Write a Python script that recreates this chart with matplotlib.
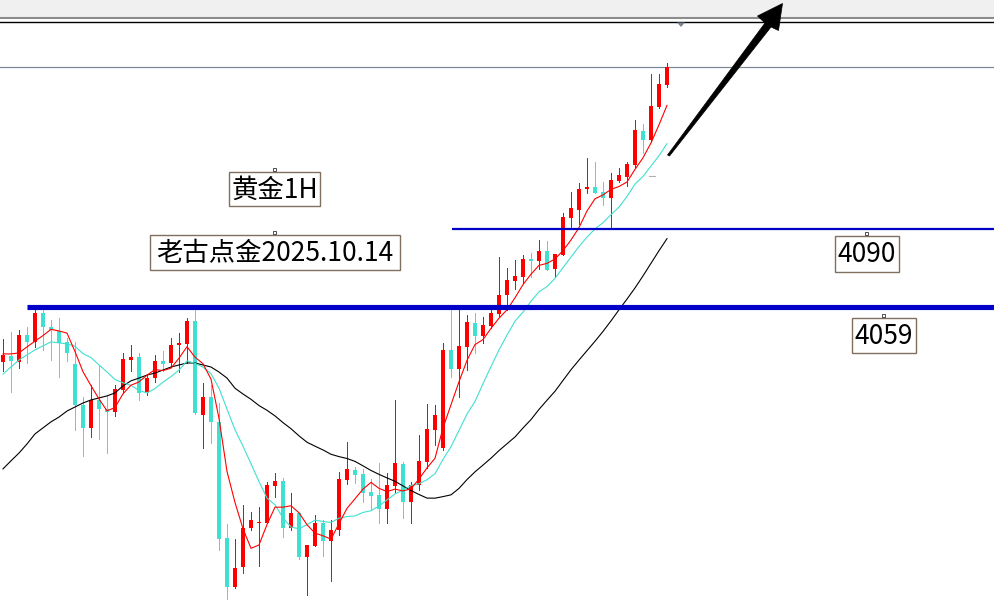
import matplotlib
matplotlib.use("Agg")
import matplotlib.pyplot as plt
from matplotlib.patches import Rectangle, Polygon
import numpy as np
import pandas as pd

plt.rcParams['font.family'] = ['Noto Sans CJK SC', 'DejaVu Sans']

# ---------------- data (gold, 1H candles) ----------------
opens = [4037.1, 4039.5, 4037.1, 4047.8, 4045.1, 4056.6, 4051.0, 4049.4, 4045.1, 4036.3,
         4020.0, 4010.9, 4022.0, 4018.4, 4017.2, 4026.0, 4037.9, 4039.1, 4025.2, 4030.7,
         4037.5, 4036.7, 4043.9, 4044.3, 4053.4, 4016.0, 4023.2, 4013.3, 3967.1, 3947.7,
         3955.6, 3971.1, 3973.1, 3973.1, 3987.8, 3989.8, 3971.1, 3977.1, 3959.6, 3964.0,
         3973.1, 3965.9, 3970.3, 3990.2, 3994.2, 3992.6, 3985.4, 3984.2, 3978.7, 3987.8,
         3996.6, 3981.5, 3988.2, 3997.4, 4010.1, 4002.9, 4041.9, 4034.3, 4043.1, 4052.6,
         4047.4, 4051.4, 4056.2, 4063.7, 4069.3, 4070.9, 4078.0, 4077.3, 4081.2, 4074.1,
         4079.6, 4094.3, 4097.5, 4105.9, 4106.7, 4104.7, 4102.3, 4109.1, 4110.6, 4115.4,
         4128.9, 4125.4, 4138.5, 4147.2]
highs = [4046.2, 4049.0, 4049.8, 4051.0, 4057.8, 4057.8, 4053.8, 4054.6, 4046.6, 4045.1,
         4023.2, 4028.0, 4035.5, 4024.0, 4028.0, 4040.7, 4043.9, 4040.7, 4031.9, 4039.9,
         4041.5, 4046.6, 4048.6, 4054.6, 4057.8, 4028.8, 4028.0, 4020.8, 3972.7, 3966.8,
         3980.3, 3977.5, 3979.5, 3989.4, 3993.0, 3991.0, 3985.0, 3977.1, 3964.4, 3976.3,
         3974.3, 3974.3, 3993.4, 4005.3, 3995.4, 3994.6, 3990.6, 3997.0, 3993.0, 4022.0,
         3997.4, 3989.4, 4008.1, 4020.4, 4020.0, 4044.7, 4059.8, 4059.8, 4055.8, 4056.6,
         4055.0, 4059.0, 4078.8, 4074.5, 4077.7, 4079.6, 4080.4, 4085.6, 4085.2, 4080.0,
         4096.3, 4104.7, 4108.3, 4118.2, 4116.6, 4108.7, 4112.2, 4114.2, 4116.6, 4133.3,
         4131.7, 4151.6, 4151.6, 4156.0]
lows = [4033.5, 4025.2, 4034.7, 4036.7, 4043.1, 4041.9, 4037.9, 4031.1, 4037.5, 4010.1,
        3999.7, 4007.3, 4006.5, 4000.9, 4015.6, 4024.8, 4033.5, 4022.0, 4024.0, 4029.2,
        4033.5, 4035.1, 4033.1, 4036.7, 4016.4, 4002.9, 4004.9, 3962.4, 3942.9, 3947.3,
        3953.2, 3970.3, 3956.0, 3973.1, 3983.4, 3967.5, 3970.3, 3958.8, 3944.5, 3964.0,
        3960.0, 3950.1, 3968.3, 3988.6, 3989.0, 3981.5, 3978.3, 3973.1, 3973.1, 3985.4,
        3975.1, 3973.1, 3986.2, 3995.0, 4004.1, 4002.1, 4031.1, 4023.2, 4033.9, 4040.7,
        4044.7, 4050.6, 4055.0, 4057.8, 4066.1, 4068.5, 4070.9, 4074.1, 4073.7, 4070.9,
        4079.6, 4090.8, 4092.0, 4104.3, 4104.3, 4099.5, 4090.8, 4108.7, 4107.1, 4114.6,
        4120.2, 4124.6, 4138.1, 4146.4]
closes = [4039.9, 4037.5, 4047.8, 4045.1, 4056.6, 4051.0, 4049.8, 4044.7, 4040.7, 4020.0,
          4010.9, 4022.0, 4018.4, 4017.2, 4026.4, 4038.3, 4039.1, 4024.8, 4030.7, 4037.5,
          4036.3, 4043.9, 4044.7, 4053.4, 4016.8, 4023.2, 4013.3, 3966.8, 3947.7, 3955.2,
          3971.1, 3974.3, 3973.5, 3988.2, 3989.8, 3971.1, 3977.1, 3959.6, 3964.4, 3973.1,
          3965.9, 3970.3, 3990.6, 3994.6, 3992.2, 3985.0, 3983.8, 3978.7, 3988.2, 3997.0,
          3981.5, 3988.2, 3997.8, 4010.5, 4016.0, 4041.9, 4034.3, 4043.5, 4053.0, 4047.4,
          4051.8, 4056.6, 4063.7, 4069.7, 4071.3, 4078.0, 4077.3, 4081.2, 4073.7, 4080.0,
          4094.7, 4098.3, 4105.9, 4106.7, 4104.3, 4102.3, 4109.5, 4111.4, 4115.8, 4129.3,
          4125.4, 4138.9, 4147.6, 4154.4]

ma5_lead = [4040.3, 4040.3, 4040.7, 4043.1]
ma10_lead = [4032.3, 4035.1, 4037.9, 4039.9, 4041.9, 4043.5, 4045.1, 4044.7, 4044.3]
ma30_lead = [3994.6, 3997.8, 4000.9, 4004.5, 4008.5, 4010.9, 4013.3, 4015.2, 4017.6, 4019.2,
             4020.8, 4022.0, 4022.8, 4023.6, 4024.8, 4027.6, 4029.6, 4030.7, 4031.9, 4032.7,
             4033.9, 4035.1, 4035.9, 4036.7, 4036.7, 4035.9, 4035.1, 4033.1, 4030.7]

levels = [4090, 4059]
level_labels = ["4090", "4059"]
title_text = "黄金1H"
sub_text = "老古点金2025.10.14"

# ---------------- figure ----------------
W, H = 995, 611
fig = plt.figure(figsize=(W / 100, H / 100), dpi=100)
fig.patch.set_facecolor("white")
ax = fig.add_axes([0, 0, 1, 1])
ax.set_facecolor("white")
ax.axis("off")
ax.set_xlim(-0.375, 124.0)
ax.set_ylim(3938.1, 4181.0)

def P(x, y):
    return (x / W, 1 - y / H)

RED = "#ff0000"
CYAN = "#40e0d0"
PX = 0.72  # one pixel in points

o = np.array(opens); h = np.array(highs); l = np.array(lows); c = np.array(closes)
x = np.arange(len(c))
up = c >= o
cols = np.where(up, RED, CYAN)

# wicks
ax.vlines(x, l, h, colors=cols, lw=PX, zorder=3, antialiased=False)
# bodies
bottom = np.minimum(o, c)
height = np.maximum(np.abs(c - o), 0.45)
ax.bar(x, height, bottom=bottom, width=0.62, color=cols, linewidth=0, zorder=4,
       antialiased=False)

# moving averages
s = pd.Series(closes)
ma5 = s.rolling(5).mean().to_numpy()
ma5[:len(ma5_lead)] = ma5_lead
ma10 = s.rolling(10).mean().to_numpy()
ma10[:len(ma10_lead)] = ma10_lead
ma30 = s.rolling(30).mean().to_numpy()
ma30[:len(ma30_lead)] = ma30_lead

ax.plot(x, ma30, color="black", lw=0.8, zorder=5)
ax.plot(x, ma10, color=CYAN, lw=0.8, zorder=5)
ax.plot(x, ma5, color=RED, lw=0.8, zorder=5)

# bid line
ax.axhline(closes[-1], color="#778899", lw=PX * 1.2, zorder=2)

# support / resistance levels
ax.hlines(levels[0], 56.1, 124.0, color="#0000c8", lw=1.6, zorder=6)
ax.hlines(levels[1], 3.0, 124.0, color="#0000c8", lw=3.7, zorder=6)

# ---------------- top toolbar strip ----------------
fig.add_artist(Rectangle(P(0, 17), 1, 17 / H, transform=fig.transFigure,
                         facecolor="#f0f0f0", edgecolor="none", zorder=10))
fig.add_artist(plt.Line2D([0, 1], [1 - 17.5 / H] * 2, transform=fig.transFigure,
                          color="#8c8c8c", lw=1.5, zorder=11))
fig.add_artist(plt.Line2D([0, 1], [1 - 21.5 / H] * 2, transform=fig.transFigure,
                          color="black", lw=1.0, zorder=11))
fig.add_artist(Polygon([P(677, 22.5), P(685, 22.5), P(681, 27)], closed=True,
                       transform=fig.transFigure, facecolor="#7a8592",
                       edgecolor="none", zorder=11))

# ---------------- arrow ----------------
arrow_pts = [P(667.5, 155), P(765, 23), P(757.5, 16), P(782.5, 3.5),
             P(778.5, 30.5), P(771, 27), P(669.5, 156)]
fig.add_artist(Polygon(arrow_pts, closed=True, transform=fig.transFigure,
                       facecolor="black", edgecolor="black", lw=0.5, zorder=12))
# small grey anchor dash near the arrow tail
fig.add_artist(plt.Line2D([649 / W, 655 / W], [1 - 176 / H] * 2, transform=fig.transFigure,
                          color="#b0b0b0", lw=0.8, zorder=12))

# ---------------- labels ----------------
BOXC = "#80705f"
def boxed(text, x0, y0, x1, y1):
    fig.add_artist(Rectangle(P(x0, y1), (x1 - x0) / W, (y1 - y0) / H,
                             transform=fig.transFigure, facecolor="white",
                             edgecolor=BOXC, lw=1.0, zorder=13))
    fig.text((x0 + x1) / 2 / W, 1 - ((y0 + y1) / 2 + 1) / H, text,
             ha="center", va="center", fontsize=19, color="black", zorder=14)
    fig.add_artist(Rectangle(P((x0 + x1) / 2 - 1.5, y0 - 1), 3 / W, 3 / H,
                             transform=fig.transFigure, facecolor="white",
                             edgecolor="#333333", lw=0.6, zorder=14))

boxed(title_text, 229, 172, 320, 206)
boxed(sub_text, 150, 235, 400, 270)
boxed(level_labels[0], 835, 236, 899, 272)
boxed(level_labels[1], 852, 318, 916, 353)

fig.savefig("out.png", dpi=100, facecolor="white")
